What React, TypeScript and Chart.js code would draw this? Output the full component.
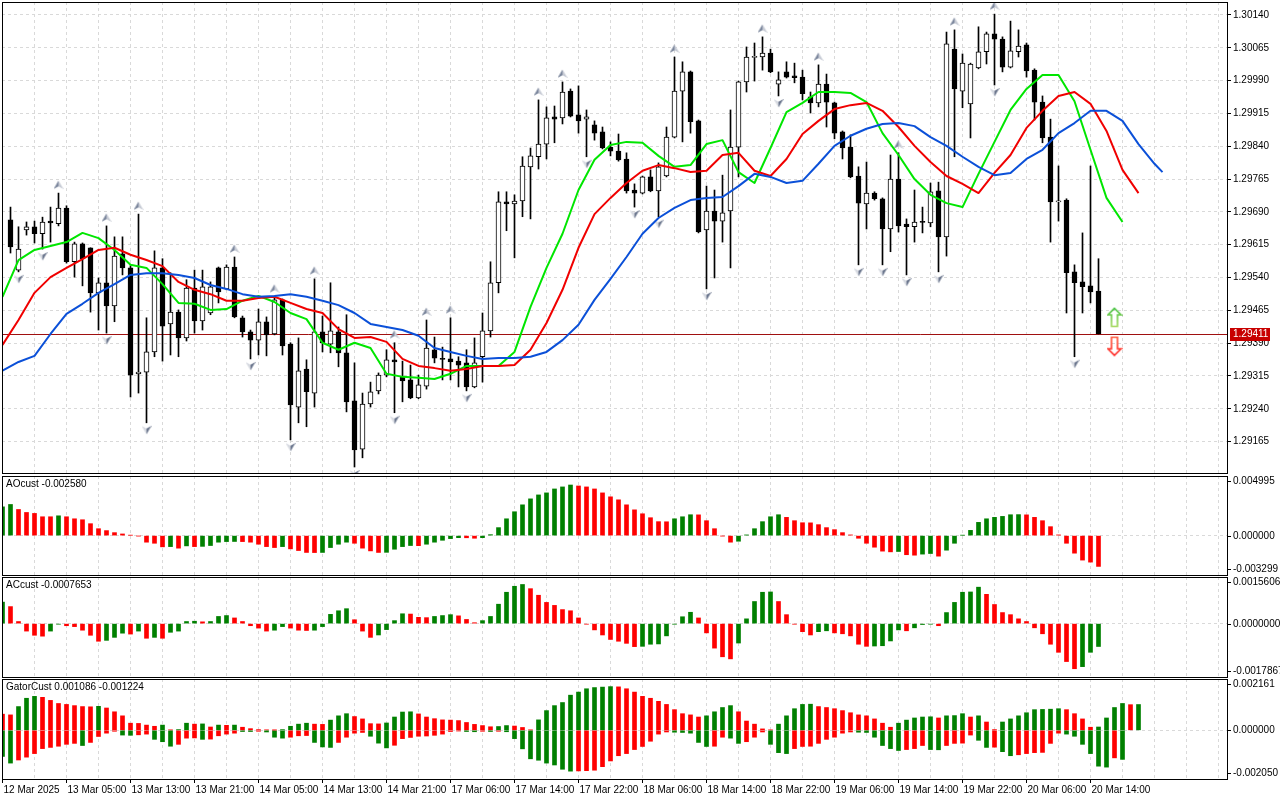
import React, { useEffect, useRef } from "react";
import { Chart, registerables } from "chart.js";

Chart.register(...registerables);

const FONT = "'Liberation Sans', Arial, sans-serif";
const GREEN = "#008000";
const RED = "#ff0000";
const GRID = "#d9d9d9";

// ---------------- price bars (hourly, bar 0 .. 136) ----------------
const OPEN = [
  1.29672, 1.29557, 1.29649, 1.29656, 1.2964, 1.29669, 1.29663, 1.29699, 1.29576, 1.29617,
  1.29608, 1.29505, 1.29528, 1.29475, 1.29594, 1.29562, 1.2932, 1.29324, 1.2937, 1.29562,
  1.29434, 1.29461, 1.29402, 1.29516, 1.29441, 1.29459, 1.29562, 1.29514, 1.29564, 1.29448,
  1.29416, 1.29397, 1.29439, 1.29411, 1.29489, 1.29388, 1.29244, 1.29331, 1.29276, 1.29416,
  1.29388, 1.29416, 1.29368, 1.29258, 1.29148, 1.29251, 1.29281, 1.29317, 1.29352, 1.29313,
  1.29306, 1.29265, 1.29292, 1.29375, 1.29354, 1.29354, 1.29349, 1.29345, 1.2929, 1.29359,
  1.29418, 1.29528, 1.29713, 1.29708, 1.29715, 1.29793, 1.29816, 1.29845, 1.29907, 1.29905,
  1.29966, 1.29912, 1.29902, 1.29889, 1.29873, 1.29838, 1.29829, 1.29811, 1.2974, 1.29733,
  1.2977, 1.29738, 1.29772, 1.29861, 1.29966, 1.3001, 1.29898, 1.29649, 1.29692, 1.29669,
  1.29692, 1.29838, 1.29987, 1.30043, 1.30044, 1.30053, 1.29982, 1.3001, 1.30001, 1.29998,
  1.29953, 1.29939, 1.29982, 1.29939, 1.29873, 1.29838, 1.29772, 1.29708, 1.29733, 1.2972,
  1.29651, 1.29765, 1.29662, 1.29656, 1.29667, 1.29665, 1.29738, 1.29633, 1.30062, 1.29966,
  1.29937, 1.30019, 1.30056, 1.30097, 1.30085, 1.30021, 1.30056, 1.30072, 1.30014, 1.29941,
  1.29861, 1.29713, 1.29717, 1.29553, 1.2953, 1.29521, 1.29509,
];
const HIGH = [
  1.29701, 1.29656, 1.29667, 1.29669, 1.29678, 1.29701, 1.29733, 1.29704, 1.29621, 1.29619,
  1.29608, 1.29539, 1.29658, 1.29633, 1.29633, 1.29567, 1.29685, 1.29448, 1.29601, 1.29583,
  1.29551, 1.29466, 1.29535, 1.29557, 1.29557, 1.2953, 1.29564, 1.29569, 1.29587, 1.29452,
  1.2942, 1.29468, 1.2945, 1.29496, 1.29491, 1.29391, 1.29402, 1.29352, 1.29537, 1.29452,
  1.29528, 1.29427, 1.29455, 1.29345, 1.29276, 1.29301, 1.29322, 1.29375, 1.29391, 1.29349,
  1.2934, 1.29317, 1.29443, 1.29404, 1.29381, 1.29448, 1.29359, 1.29375, 1.29402, 1.29459,
  1.29576, 1.29736, 1.29736, 1.29729, 1.29816, 1.29836, 1.29946, 1.2993, 1.29932, 1.29987,
  1.29971, 1.29978, 1.29923, 1.29898, 1.29884, 1.2985, 1.29868, 1.29825, 1.29754, 1.29772,
  1.29786, 1.29802, 1.29884, 1.30044, 1.30033, 1.30012, 1.299, 1.29749, 1.2974, 1.29774,
  1.29923, 1.29989, 1.30067, 1.30076, 1.3009, 1.30062, 1.3001, 1.30033, 1.3003, 1.30014,
  1.29964, 1.30026, 1.30005, 1.29941, 1.29875, 1.29866, 1.29793, 1.29804, 1.29736, 1.29722,
  1.2982, 1.29825, 1.29674, 1.2974, 1.29701, 1.29756, 1.29758, 1.30101, 1.30106, 1.30051,
  1.3003, 1.30113, 1.30101, 1.30142, 1.3009, 1.30126, 1.30106, 1.30076, 1.30017, 1.29955,
  1.29902, 1.29795, 1.2972, 1.29569, 1.29642, 1.29795, 1.29583,
];
const LOW = [
  1.29596, 1.29553, 1.29637, 1.29619, 1.29605, 1.29621, 1.29658, 1.29573, 1.29541, 1.29521,
  1.29461, 1.2942, 1.29413, 1.29439, 1.29546, 1.29267, 1.29276, 1.29208, 1.29359, 1.29349,
  1.29363, 1.29359, 1.29395, 1.29413, 1.2942, 1.29455, 1.29482, 1.29512, 1.29448, 1.29404,
  1.29354, 1.29363, 1.29361, 1.29409, 1.29363, 1.29169, 1.29208, 1.29199, 1.29244, 1.2937,
  1.29368, 1.29336, 1.29233, 1.29107, 1.29128, 1.29244, 1.29274, 1.29313, 1.29231, 1.29256,
  1.29263, 1.29263, 1.29285, 1.29345, 1.29306, 1.29306, 1.2929, 1.29281, 1.29288, 1.29301,
  1.29404, 1.29505, 1.29647, 1.29585, 1.29679, 1.29674, 1.29788, 1.29811, 1.29848, 1.29891,
  1.29907, 1.2987, 1.29816, 1.29854, 1.29834, 1.29818, 1.29806, 1.29733, 1.29701, 1.29731,
  1.29736, 1.29679, 1.2977, 1.29859, 1.2985, 1.2987, 1.29642, 1.29514, 1.29539, 1.29621,
  1.29562, 1.2977, 1.29964, 1.29989, 1.30014, 1.30008, 1.29955, 1.29996, 1.29985, 1.29946,
  1.29916, 1.2993, 1.29884, 1.29857, 1.29811, 1.29768, 1.29569, 1.29651, 1.29717, 1.29569,
  1.29599, 1.29644, 1.29546, 1.29621, 1.29642, 1.29656, 1.29553, 1.29589, 1.29816, 1.29928,
  1.29859, 1.30017, 1.30028, 1.2998, 1.3001, 1.30019, 1.30044, 1.29998, 1.299, 1.29848,
  1.29621, 1.29669, 1.29459, 1.29359, 1.29459, 1.29482, 1.29411,
];
const CLOSE = [
  1.2961, 1.29605, 1.29656, 1.2964, 1.29667, 1.29665, 1.29699, 1.29576, 1.29617, 1.29583,
  1.29505, 1.29528, 1.29475, 1.29589, 1.29562, 1.29317, 1.29324, 1.2937, 1.29562, 1.29429,
  1.29461, 1.29402, 1.29516, 1.29441, 1.29519, 1.29519, 1.29507, 1.29564, 1.2945, 1.29416,
  1.29397, 1.29439, 1.29409, 1.29489, 1.29384, 1.29249, 1.29327, 1.29279, 1.29416, 1.29391,
  1.29418, 1.29368, 1.29256, 1.29146, 1.29251, 1.29279, 1.29317, 1.29352, 1.29347, 1.29304,
  1.29265, 1.29295, 1.29379, 1.29356, 1.29353, 1.29347, 1.2934, 1.2929, 1.29345, 1.29418,
  1.29528, 1.29713, 1.29708, 1.29715, 1.29795, 1.29818, 1.29845, 1.29905, 1.29902, 1.29964,
  1.29909, 1.29898, 1.29907, 1.2987, 1.29836, 1.29829, 1.29809, 1.29738, 1.29733, 1.2977,
  1.29738, 1.29793, 1.29861, 1.29966, 1.3001, 1.29896, 1.29644, 1.29692, 1.29669, 1.29688,
  1.29838, 1.29987, 1.30044, 1.30044, 1.30053, 1.3001, 1.29992, 1.29998, 1.29997, 1.2996,
  1.29939, 1.29982, 1.29941, 1.2987, 1.29836, 1.2977, 1.2971, 1.29733, 1.2972, 1.29651,
  1.29765, 1.29658, 1.29656, 1.29667, 1.29666, 1.29736, 1.29633, 1.30074, 1.29971, 1.3003,
  1.30028, 1.30056, 1.30097, 1.30085, 1.30021, 1.30058, 1.30069, 1.30012, 1.29941, 1.29859,
  1.29713, 1.29715, 1.29551, 1.29528, 1.29519, 1.29507, 1.29411,
];

// fractal bars (index of bar)
const FRACTAL_UP = [6, 12, 16, 28, 33, 38, 48, 52, 55, 66, 69, 83, 94, 101, 111, 118, 123];
const FRACTAL_DOWN = [1, 4, 12, 17, 30, 35, 43, 48, 57, 72, 78, 81, 87, 96, 106, 109, 112, 116, 123, 133];

// Alligator lines, read every 2 bars starting at bar -1
const LINE_START = -1;
const LINE_STEP = 2;
const LIPS = [
  1.29496, 1.2958, 1.29603, 1.29612, 1.29621, 1.29642, 1.2963, 1.29603, 1.29569, 1.29562,
  1.29525, 1.29482, 1.2948, 1.29466, 1.29468, 1.29487, 1.29498, 1.29484, 1.29459, 1.29445,
  1.29391, 1.29375, 1.29391, 1.29379, 1.2932, 1.29313, 1.29311, 1.29308, 1.2932, 1.29338,
  1.29338, 1.29338, 1.2937, 1.29473, 1.29562, 1.2964, 1.2974, 1.29809, 1.29843, 1.2985,
  1.29848, 1.29818, 1.29793, 1.29797, 1.29845, 1.29854, 1.29781, 1.29756, 1.29836, 1.29918,
  1.29939, 1.29964, 1.29964, 1.29962, 1.29941, 1.2987, 1.2982, 1.29765, 1.29729, 1.2971,
  1.29701, 1.29777, 1.2985, 1.29923, 1.29971, 1.30003, 1.30003, 1.29943, 1.29832, 1.29722,
  1.29667,
];
const TEETH = [
  1.29386, 1.29443, 1.29505, 1.29541, 1.29562, 1.29582, 1.29603, 1.29608, 1.29592, 1.2958,
  1.29566, 1.2953, 1.29512, 1.29502, 1.29487, 1.29487, 1.29493, 1.29496, 1.29482, 1.29468,
  1.29459, 1.29422, 1.29402, 1.29404, 1.29393, 1.29354, 1.29338, 1.29333, 1.29327, 1.29331,
  1.29338, 1.29338, 1.2934, 1.29375, 1.29436, 1.29512, 1.29608, 1.29685, 1.29722, 1.29756,
  1.29784, 1.29797, 1.2979, 1.29781, 1.29784, 1.2982, 1.29825, 1.29784, 1.29772, 1.29811,
  1.29868, 1.29898, 1.29925, 1.29934, 1.29939, 1.29921, 1.29884, 1.29841, 1.29804, 1.29772,
  1.29754, 1.29733, 1.29779, 1.2982, 1.29882, 1.29921, 1.29955, 1.29964, 1.29937, 1.29875,
  1.29786, 1.29733,
];
const JAW = [
  1.29327, 1.29347, 1.29361, 1.29411, 1.29457, 1.2948, 1.29505, 1.29525, 1.29546, 1.2955,
  1.2955, 1.29546, 1.29539, 1.29523, 1.29514, 1.29502, 1.29496, 1.29498, 1.29502, 1.29496,
  1.29487, 1.29477, 1.29459, 1.29434, 1.29427, 1.2942, 1.29407, 1.29379, 1.2937, 1.29361,
  1.29354, 1.29356, 1.29356, 1.29359, 1.2937, 1.29397, 1.29432, 1.29489, 1.29537, 1.29587,
  1.2964, 1.29676, 1.29699, 1.29717, 1.29722, 1.29724, 1.29749, 1.29777, 1.2977, 1.29756,
  1.29761, 1.298, 1.29841, 1.29864, 1.2988, 1.29891, 1.29893, 1.29886, 1.29861, 1.29841,
  1.29816, 1.29793, 1.29774, 1.29779, 1.29811, 1.29832, 1.2987, 1.29893, 1.29921, 1.29921,
  1.29898, 1.29845, 1.298,
];
const JAW_END_BAR = 144;
const JAW_END = 1.29781;

const CURRENT_PRICE = 1.29411;
const SIGNAL_BAR = 138;
const SIGNAL_BUY = 1.29449;
const SIGNAL_SELL = 1.29383;

const PRICE_TICKS = [
  1.29165, 1.2924, 1.29315, 1.2939, 1.29465, 1.2954, 1.29615, 1.2969, 1.29765, 1.2984,
  1.29915, 1.2999, 1.30065, 1.3014,
];

// ---------------- oscillators (bar -1 .. ) ----------------
const HIST_START = -1;
const AO = [
  0.00241, 0.00261, 0.00219, 0.00194, 0.00186, 0.00158, 0.00158, 0.00166, 0.00158, 0.00141, 0.00133,
  0.001, 0.00058, 0.00042, 0.00025, 0.00014, 0.00003, -0.00003, -0.00055, -0.00064, -0.00094,
  -0.00092, -0.00105, -0.00086, -0.00092, -0.0009, -0.00083, -0.00055, -0.0005, -0.00049, -0.0005,
  -0.00055, -0.00072, -0.00092, -0.001, -0.00092, -0.00111, -0.00125, -0.00141, -0.00142, -0.00141,
  -0.001, -0.00072, -0.00055, -0.00064, -0.00105, -0.00128, -0.00141, -0.0014, -0.00114, -0.00092,
  -0.00083, -0.00084, -0.00072, -0.00055, -0.00039, -0.00025, -0.00017, -0.00018, -0.00022, -0.00017,
  0.00008, 0.00067, 0.00141, 0.002, 0.00258, 0.00308, 0.00341, 0.00358, 0.00391, 0.00408,
  0.00424, 0.00416, 0.00408, 0.00391, 0.00358, 0.00325, 0.003, 0.00258, 0.00216, 0.00183,
  0.0015, 0.00117, 0.00116, 0.00141, 0.00158, 0.00175, 0.00174, 0.00125, 0.00058, -0.00003,
  -0.00055, -0.00047, 0.00006, 0.00058, 0.00117, 0.00158, 0.00175, 0.00153, 0.00125, 0.00108,
  0.00107, 0.00092, 0.00067, 0.0005, 0.00025, 0.00006, -0.00022, -0.00064, -0.00097, -0.0013,
  -0.00136, -0.00133, -0.0016, -0.00164, -0.00155, -0.0015, -0.00172, -0.00122, -0.00064, 0.00003,
  0.00044, 0.00111, 0.00141, 0.00153, 0.00161, 0.00175, 0.00176, 0.00174, 0.00153, 0.00125,
  0.00075, 0.00006, -0.00064, -0.00147, -0.00205, -0.00222, -0.00258,
];
const AO_COLORS =
  "ggrrrrrgrrr" + "rrrrrrrrrr" + "grgrgggggr" + "rrrrgrrrrg" + "gggrrrrggg" + "grgggggrrg" +
  "gggggggggg" + "grrrrrrrrr" + "rrrgggrrrr" + "rggggggrrr" + "rrrrrrrrrr" + "rgrrggrggg" +
  "gggggggrrr" + "rrrrrrr";

const AC = [
  0.00072, 0.00057, 0.00007, -0.00025, -0.00039, -0.00042, -0.00025, -0.00002, -0.00007, -0.0001, -0.00022,
  -0.00039, -0.00059, -0.00056, -0.00046, -0.00032, -0.00035, -0.00025, -0.00049, -0.00046, -0.00049,
  -0.00029, -0.00025, 0.00007, 0.00008, 0.00006, 0.00007, 0.00024, 0.00027, 0.00019, 0.00007,
  -0.00007, -0.00015, -0.00025, -0.00022, -0.0001, -0.00015, -0.00022, -0.00023, -0.00022, -0.0001,
  0.00031, 0.00043, 0.0005, 0.00013, -0.00025, -0.00046, -0.00038, -0.0002, 0.0001, 0.00033,
  0.00032, 0.00021, 0.0002, 0.00024, 0.00027, 0.0003, 0.00026, 0.00014, 0.00003, 0.0001,
  0.00024, 0.00065, 0.00105, 0.00125, 0.00131, 0.00117, 0.00095, 0.00071, 0.00061, 0.00047,
  0.00043, 0.00019, -0.00002, -0.00021, -0.00038, -0.00053, -0.00059, -0.00066, -0.00077, -0.00076,
  -0.00069, -0.00068, -0.00041, -0.00002, 0.00023, 0.00038, 0.00019, -0.00031, -0.00082, -0.00111,
  -0.00118, -0.00065, 0.00016, 0.00074, 0.00105, 0.00106, 0.00074, 0.0003, -0.00002, -0.00027,
  -0.00038, -0.00027, -0.00024, -0.00031, -0.00034, -0.00041, -0.00069, -0.00076, -0.00075, -0.00074,
  -0.00058, -0.00021, -0.00024, -0.00014, -0.00003, -0.00002, -0.00007, 0.00037, 0.00071, 0.00105,
  0.00106, 0.00122, 0.00098, 0.00064, 0.00037, 0.0003, 0.00016, 0.00007, -0.00014, -0.00034,
  -0.00069, -0.00096, -0.00127, -0.00151, -0.00144, -0.00096, -0.0007653,
];
const AC_COLORS =
  "grrrrrggrrr" + "rrgggrgrgr" + "ggggrgggrr" + "rrrggrrrgg" + "gggrrrgggg" + "rrrgggrrrg" +
  "gggggrrrrr" + "rrrrrrrrrg" + "ggggggrrrr" + "rgggggrrrr" + "rggrrrrrgg" + "ggrgggrggg" +
  "ggrrrrrrrr" + "rrrrggg";

const GATOR_UP = [
  0.00068, 0.00065, 0.001, 0.00135, 0.00143, 0.00139, 0.00126, 0.00113, 0.00109, 0.00104, 0.001,
  0.00099, 0.00101, 0.00094, 0.00078, 0.00061, 0.0003, 0.00029, 0.00022, 0.00017, 0.00022,
  0.00002, 0.00003, 0.0003, 0.00026, 0.00027, 0.00014, 0.00022, 0.00021, 0.00022, 0.00013,
  0.00007, 0.00003, 0.00002, 0.00001, 0.00003, 0.00017, 0.00026, 0.0003, 0.00026, 0.00025,
  0.00043, 0.00061, 0.0007, 0.00058, 0.00048, 0.00028, 0.00027, 0.00031, 0.00056, 0.00077,
  0.00078, 0.00069, 0.00056, 0.00049, 0.00044, 0.00043, 0.00041, 0.00033, 0.00025, 0.0002,
  0.00015, 0.00016, 0.0002, 0.00018, 0.00012, 0.00002, 0.00044, 0.00083, 0.00104, 0.00117,
  0.00148, 0.00161, 0.00175, 0.0018, 0.00182, 0.00184, 0.00183, 0.00175, 0.00161, 0.00143,
  0.00135, 0.00122, 0.00109, 0.00087, 0.0007, 0.00065, 0.00056, 0.00061, 0.00078, 0.00096,
  0.00104, 0.00078, 0.00039, 0.00026, 0.00006, 0.00002, 0.00026, 0.00061, 0.00091, 0.00109,
  0.0011, 0.001, 0.00096, 0.00091, 0.00083, 0.00074, 0.00065, 0.00061, 0.00048, 0.0003,
  0.00013, 0.0003, 0.00043, 0.00052, 0.00056, 0.00057, 0.00052, 0.00061, 0.00062, 0.0007,
  0.00056, 0.00061, 0.00035, 0.00003, 0.00035, 0.00048, 0.00061, 0.00074, 0.00087, 0.00088,
  0.00089, 0.00091, 0.00087, 0.0007, 0.00048, 0.00013, 0.00014, 0.00052, 0.00096, 0.00113,
  0.00108, 0.001086,
];
const GATOR_UP_COLORS =
  "rrgggrrrrrr" + "rgrrrrrrrg" + "rggrgrgrgr" + "rrrrggggrr" + "gggrrrrggg" + "grrrrrrrrr" +
  "rggrrrgggg" + "ggggggrrrr" + "rrrrrrrggg" + "grrrrrgggg" + "grrrrrrrrr" + "rgggggrggg" +
  "rgrrgggggg" + "ggrrrrgggg" + "rg";

const GATOR_DOWN = [
  -0.0011, -0.00138, -0.00125, -0.00113, -0.00098, -0.00077, -0.00072, -0.00067, -0.00059, -0.00055, -0.00064,
  -0.00051, -0.00026, -0.00012, -0.00004, -0.0002, -0.00021, -0.00019, -0.00016, -0.00038, -0.00048,
  -0.00067, -0.00059, -0.00033, -0.00032, -0.00038, -0.00037, -0.00023, -0.00016, -0.00012, -0.00005,
  -0.00005, -0.00004, -0.00007, -0.00029, -0.00033, -0.00029, -0.00023, -0.00022, -0.00051, -0.0007,
  -0.00072, -0.00051, -0.00029, -0.00012, -0.00009, -0.00025, -0.00054, -0.00074, -0.00063, -0.00035,
  -0.0003, -0.00025, -0.00024, -0.00021, -0.00016, -0.00005, -0.00003, -0.00005, -0.00006, -0.00004,
  -0.00005, -0.00004, -0.00006, -0.00035, -0.00078, -0.0012, -0.00126, -0.00138, -0.00146, -0.00164,
  -0.00172, -0.00171, -0.0017, -0.00168, -0.00153, -0.00129, -0.00107, -0.00098, -0.00081, -0.00068,
  -0.00046, -0.00016, -0.00007, -0.00008, -0.00009, -0.00012, -0.00051, -0.00068, -0.00067, -0.00029,
  -0.00033, -0.00055, -0.00048, -0.00029, -0.00007, -0.00059, -0.00094, -0.00098, -0.00077, -0.00068,
  -0.00067, -0.00055, -0.00038, -0.00029, -0.00012, -0.00007, -0.00008, -0.00009, -0.00029, -0.00064,
  -0.00077, -0.00085, -0.00081, -0.00077, -0.00064, -0.00081, -0.00082, -0.00064, -0.00055, -0.00054,
  -0.0002, -0.00042, -0.00072, -0.00071, -0.0009, -0.00107, -0.00103, -0.00098, -0.00094, -0.00093,
  -0.00055, -0.00012, -0.00016, -0.00025, -0.00059, -0.00098, -0.00151, -0.00155, -0.00116, -0.001224,
];
const GATOR_DOWN_COLORS =
  "ggrrrrrrrrg" + "rrrrggrrgg" + "grrrgrrrrg" + "grgggrrrgg" + "grrrrgggrr" + "rrrrrrrggr" +
  "grgggggggg" + "grrrrrrrrr" + "rrrgggggrr" + "ggrrrgggrr" + "rrrrrrgggg" + "ggrrrggrrr" +
  "rggrggrrrr" + "rrggggggrg";

// sub-window scale labels
const AO_AXIS = [0.004995, 0, -0.003299];
const AO_AXIS_TEXT = ["0.004995", "0.000000", "-0.003299"];
const AC_AXIS = [0.0015606, 0, -0.0017867];
const AC_AXIS_TEXT = ["0.0015606", "0.0000000", "-0.0017867"];
const GATOR_AXIS = [0.002161, 0, -0.00205];
const GATOR_AXIS_TEXT = ["0.002161", "0.000000", "-0.002050"];

const AO_TITLE = "AOcust -0.002580";
const AC_TITLE = "ACcust -0.0007653";
const GATOR_TITLE = "GatorCust 0.001086 -0.001224";

// time axis
const X_LABEL_BARS = [-1, 7, 15, 23, 31, 39, 47, 55, 63, 71, 79, 87, 95, 103, 111, 119, 127, 135];
const X_LABELS = [
  "12 Mar 2025", "13 Mar 05:00", "13 Mar 13:00", "13 Mar 21:00", "14 Mar 05:00", "14 Mar 13:00",
  "14 Mar 21:00", "17 Mar 06:00", "17 Mar 14:00", "17 Mar 22:00", "18 Mar 06:00", "18 Mar 14:00",
  "18 Mar 22:00", "19 Mar 06:00", "19 Mar 14:00", "19 Mar 22:00", "20 Mar 06:00", "20 Mar 14:00",
];

// ---------------- layout (view range) ----------------
const X_MIN = -1.0625;
const X_MAX = 152.0625;
const PRICE_MIN = 1.290933;
const PRICE_MAX = 1.301697;

function zeroPad(s: any) {
  s.paddingTop = 0;
  s.paddingBottom = 0;
  s.paddingLeft = 0;
  s.paddingRight = 0;
}

function gridXAxis(): any {
  return {
    type: "linear",
    position: "bottom",
    min: X_MIN,
    max: X_MAX,
    offset: false,
    display: true,
    grid: { display: true, drawOnChartArea: true, drawTicks: false, color: GRID, lineWidth: 1, offset: false },
    border: { display: false, dash: [3, 3] },
    ticks: { display: false },
    afterBuildTicks: (s: any) => {
      const t: any[] = [];
      for (let b = 3; b <= X_MAX; b += 4) t.push({ value: b });
      s.ticks = t;
    },
    afterFit: (s: any) => {
      s.height = 0;
      zeroPad(s);
    },
  };
}

function timeAxis(): any {
  return {
    type: "linear",
    position: "bottom",
    min: X_MIN,
    max: X_MAX,
    offset: false,
    display: true,
    grid: {
      display: true,
      drawOnChartArea: false,
      drawTicks: true,
      tickLength: 4,
      tickColor: "#000",
      tickBorderDash: [],
      color: "#000",
      offset: false,
    },
    border: { display: false },
    ticks: {
      display: true,
      autoSkip: false,
      maxRotation: 0,
      minRotation: 0,
      align: "start",
      padding: 1,
      labelOffset: 1,
      color: "#000",
      font: { family: FONT, size: 10 },
      callback: (_v: any, i: number) => X_LABELS[i],
    },
    afterBuildTicks: (s: any) => {
      s.ticks = X_LABEL_BARS.map((v) => ({ value: v }));
    },
    afterFit: (s: any) => {
      s.height = 20;
      zeroPad(s);
    },
  };
}

function panelPlugin(cfg: { title?: string; axis?: number[]; axisText?: string[]; price?: number }): any {
  return {
    id: "mt5panel",
    beforeDatasetsDraw(chart: any) {
      if (cfg.price === undefined) return;
      const { ctx, chartArea: a, scales } = chart;
      const y = Math.round(scales.y.getPixelForValue(cfg.price)) + 0.5;
      ctx.save();
      ctx.strokeStyle = "#a01010";
      ctx.lineWidth = 1;
      ctx.beginPath();
      ctx.moveTo(a.left, y);
      ctx.lineTo(a.right, y);
      ctx.stroke();
      ctx.restore();
    },
    afterDraw(chart: any) {
      const { ctx, chartArea: a, scales } = chart;
      ctx.save();
      ctx.strokeStyle = "#000";
      ctx.lineWidth = 1;
      ctx.strokeRect(a.left + 0.5, a.top + 0.5, a.right - a.left, a.bottom - a.top);
      ctx.font = `10px ${FONT}`;
      ctx.textBaseline = "middle";
      ctx.textAlign = "left";
      ctx.fillStyle = "#000";
      if (cfg.title) ctx.fillText(cfg.title, a.left + 4, a.top + 8.5);
      if (cfg.axis && cfg.axisText) {
        cfg.axis.forEach((v, i) => {
          let y = scales.y.getPixelForValue(v);
          y = Math.min(Math.max(y, a.top + 5), a.bottom - 6);
          const yy = Math.round(y) + 0.5;
          ctx.beginPath();
          ctx.moveTo(a.right, yy);
          ctx.lineTo(a.right + 4, yy);
          ctx.stroke();
          ctx.fillText(cfg.axisText![i], a.right + 6, yy);
        });
      }
      if (cfg.price !== undefined) {
        const y = Math.round(scales.y.getPixelForValue(cfg.price));
        ctx.fillStyle = "#c80000";
        ctx.fillRect(a.right + 3, y - 6, 40, 13);
        ctx.fillStyle = "#fff";
        ctx.fillText(cfg.price.toFixed(5), a.right + 6, y + 0.5);
      }
      ctx.restore();
    },
  };
}

function makeFractal(up: boolean) {
  const c = document.createElement("canvas");
  c.width = 10;
  c.height = 26;
  const g = c.getContext("2d")!;
  const cy = up ? 5 : 20;
  const s = up ? 1 : -1;
  const tip = [5, cy - 4.5 * s];
  const left = [0, cy + 4 * s];
  const right = [10, cy + 4 * s];
  const notch = [5, cy + 1.2 * s];
  g.beginPath();
  g.moveTo(tip[0], tip[1]);
  g.lineTo(left[0], left[1]);
  g.lineTo(notch[0], notch[1]);
  g.closePath();
  g.fillStyle = up ? "#7c879d" : "#d6d9e0";
  g.fill();
  g.beginPath();
  g.moveTo(tip[0], tip[1]);
  g.lineTo(right[0], right[1]);
  g.lineTo(notch[0], notch[1]);
  g.closePath();
  g.fillStyle = up ? "#c6cad4" : "#6c778e";
  g.fill();
  return c;
}

function makeSignal(up: boolean) {
  const c = document.createElement("canvas");
  c.width = 16;
  c.height = 21;
  const g = c.getContext("2d")!;
  const pts = up
    ? [[8, 1.5], [14.5, 8], [11, 8], [11, 19.5], [5, 19.5], [5, 8], [1.5, 8]]
    : [[8, 19.5], [14.5, 13], [11, 13], [11, 1.5], [5, 1.5], [5, 13], [1.5, 13]];
  g.beginPath();
  pts.forEach((p, i) => (i ? g.lineTo(p[0], p[1]) : g.moveTo(p[0], p[1])));
  g.closePath();
  const grad = g.createLinearGradient(0, 0, 0, 21);
  if (up) {
    grad.addColorStop(0, "#3cbf3c");
    grad.addColorStop(1, "#a8d85a");
  } else {
    grad.addColorStop(0, "#ff5a3c");
    grad.addColorStop(1, "#ff2020");
  }
  g.strokeStyle = grad;
  g.lineWidth = 1.6;
  g.stroke();
  return c;
}

function baseOptions(padding: any): any {
  return {
    responsive: false,
    animation: false,
    devicePixelRatio: 1,
    events: [],
    layout: { padding, autoPadding: false },
    plugins: { legend: { display: false }, tooltip: { enabled: false } },
  };
}

function histDataset(values: number[], colors: string, start: number): any {
  return {
    type: "bar",
    data: values.map((v, i) => ({ x: start + i, y: v })),
    backgroundColor: values.map((_, i) => (colors[i] === "r" ? RED : GREEN)),
    borderWidth: 0,
    barThickness: 4,
    grouped: false,
  };
}

function subYAxis(axis: number[]): any {
  return {
    type: "linear",
    position: "right",
    min: Math.min(...axis),
    max: Math.max(...axis),
    grid: { color: GRID, drawTicks: false },
    border: { display: false, dash: [3, 3] },
    ticks: { display: false },
    afterBuildTicks: (s: any) => {
      s.ticks = [{ value: 0 }];
    },
    afterFit: (s: any) => {
      s.width = 53;
      zeroPad(s);
    },
  };
}

export default function App() {
  const mainRef = useRef<HTMLCanvasElement>(null);
  const aoRef = useRef<HTMLCanvasElement>(null);
  const acRef = useRef<HTMLCanvasElement>(null);
  const gatorRef = useRef<HTMLCanvasElement>(null);

  useEffect(() => {
    Chart.defaults.font.family = FONT;
    Chart.defaults.font.size = 10;
    Chart.defaults.color = "#000";

    const upImg = makeFractal(true);
    const downImg = makeFractal(false);
    const buyImg = makeSignal(true);
    const sellImg = makeSignal(false);

    const lineData = (vals: number[]) => vals.map((v, i) => ({ x: LINE_START + i * LINE_STEP, y: v }));
    const lineDs = (data: any[], color: string) => ({
      type: "line",
      data,
      borderColor: color,
      borderWidth: 2,
      pointRadius: 0,
      tension: 0,
      fill: false,
      borderJoinStyle: "round",
      order: 0,
    });

    const charts: Chart[] = [];

    charts.push(
      new Chart(mainRef.current!, {
        type: "bar",
        data: {
          datasets: [
            { ...lineDs([...lineData(JAW), { x: JAW_END_BAR, y: JAW_END }], "#0b50d8") },
            { ...lineDs(lineData(TEETH), "#f00000") },
            { ...lineDs(lineData(LIPS), "#00e600") },
            {
              type: "scatter",
              data: FRACTAL_UP.map((b) => ({ x: b, y: HIGH[b] })),
              pointStyle: upImg,
              order: 0,
            },
            {
              type: "scatter",
              data: FRACTAL_DOWN.map((b) => ({ x: b, y: LOW[b] })),
              pointStyle: downImg,
              order: 0,
            },
            {
              type: "scatter",
              data: [
                { x: SIGNAL_BAR, y: SIGNAL_BUY },
                { x: SIGNAL_BAR, y: SIGNAL_SELL },
              ],
              pointStyle: [buyImg, sellImg],
              order: 0,
            },
            {
              type: "bar",
              data: OPEN.map((o, i) => ({ x: i, y: [o, CLOSE[i]] })),
              backgroundColor: OPEN.map((o, i) => (CLOSE[i] >= o ? "#ffffff" : "#000000")),
              borderColor: "#000",
              borderWidth: 1,
              borderSkipped: false,
              barThickness: 5,
              minBarLength: 1,
              grouped: false,
              order: 1,
            },
            {
              type: "bar",
              data: LOW.map((l, i) => ({ x: i, y: [l, HIGH[i]] })),
              backgroundColor: "#000",
              borderWidth: 0,
              barThickness: 1,
              grouped: false,
              order: 2,
            },
          ] as any,
        },
        options: {
          ...baseOptions({ left: 2, right: 0, top: 2, bottom: 2 }),
          scales: {
            x: gridXAxis(),
            y: {
              type: "linear",
              position: "right",
              min: PRICE_MIN,
              max: PRICE_MAX,
              grid: {
                color: GRID,
                drawTicks: true,
                tickLength: 4,
                tickColor: "#000",
                tickBorderDash: [],
                tickWidth: 1,
              },
              border: { display: false, dash: [3, 3] },
              ticks: {
                color: "#000",
                padding: 2,
                font: { family: FONT, size: 10 },
                callback: (v: any) => Number(v).toFixed(5),
              },
              afterBuildTicks: (s: any) => {
                s.ticks = PRICE_TICKS.map((v) => ({ value: v }));
              },
              afterFit: (s: any) => {
                s.width = 53;
                zeroPad(s);
              },
            },
          },
        } as any,
        plugins: [panelPlugin({ price: CURRENT_PRICE })],
      } as any)
    );

    charts.push(
      new Chart(aoRef.current!, {
        type: "bar",
        data: { datasets: [histDataset(AO, AO_COLORS, HIST_START)] },
        options: {
          ...baseOptions({ left: 2, right: 0, top: 1, bottom: 1 }),
          scales: { x: gridXAxis(), y: subYAxis(AO_AXIS) },
        } as any,
        plugins: [panelPlugin({ title: AO_TITLE, axis: AO_AXIS, axisText: AO_AXIS_TEXT })],
      } as any)
    );

    charts.push(
      new Chart(acRef.current!, {
        type: "bar",
        data: { datasets: [histDataset(AC, AC_COLORS, HIST_START)] },
        options: {
          ...baseOptions({ left: 2, right: 0, top: 1, bottom: 1 }),
          scales: { x: gridXAxis(), y: subYAxis(AC_AXIS) },
        } as any,
        plugins: [panelPlugin({ title: AC_TITLE, axis: AC_AXIS, axisText: AC_AXIS_TEXT })],
      } as any)
    );

    charts.push(
      new Chart(gatorRef.current!, {
        type: "bar",
        data: {
          datasets: [
            histDataset(GATOR_UP, GATOR_UP_COLORS, HIST_START),
            histDataset(GATOR_DOWN, GATOR_DOWN_COLORS, HIST_START),
          ],
        },
        options: {
          ...baseOptions({ left: 2, right: 0, top: 1, bottom: 1 }),
          scales: { x: gridXAxis(), xl: timeAxis(), y: subYAxis(GATOR_AXIS) },
        } as any,
        plugins: [panelPlugin({ title: GATOR_TITLE, axis: GATOR_AXIS, axisText: GATOR_AXIS_TEXT })],
      } as any)
    );

    return () => charts.forEach((c) => c.destroy());
  }, []);

  const cv = (top: number, h: number): React.CSSProperties => ({
    position: "absolute",
    left: 0,
    top,
    width: 1280,
    height: h,
    display: "block",
  });

  return (
    <div style={{ position: "fixed", left: 0, top: 0, width: 1280, height: 800, background: "#fff", overflow: "hidden" }}>
      <canvas ref={mainRef} width={1280} height={475} style={cv(0, 475)} />
      <canvas ref={aoRef} width={1280} height={101} style={cv(475, 101)} />
      <canvas ref={acRef} width={1280} height={102} style={cv(576, 102)} />
      <canvas ref={gatorRef} width={1280} height={122} style={cv(678, 122)} />
    </div>
  );
}
